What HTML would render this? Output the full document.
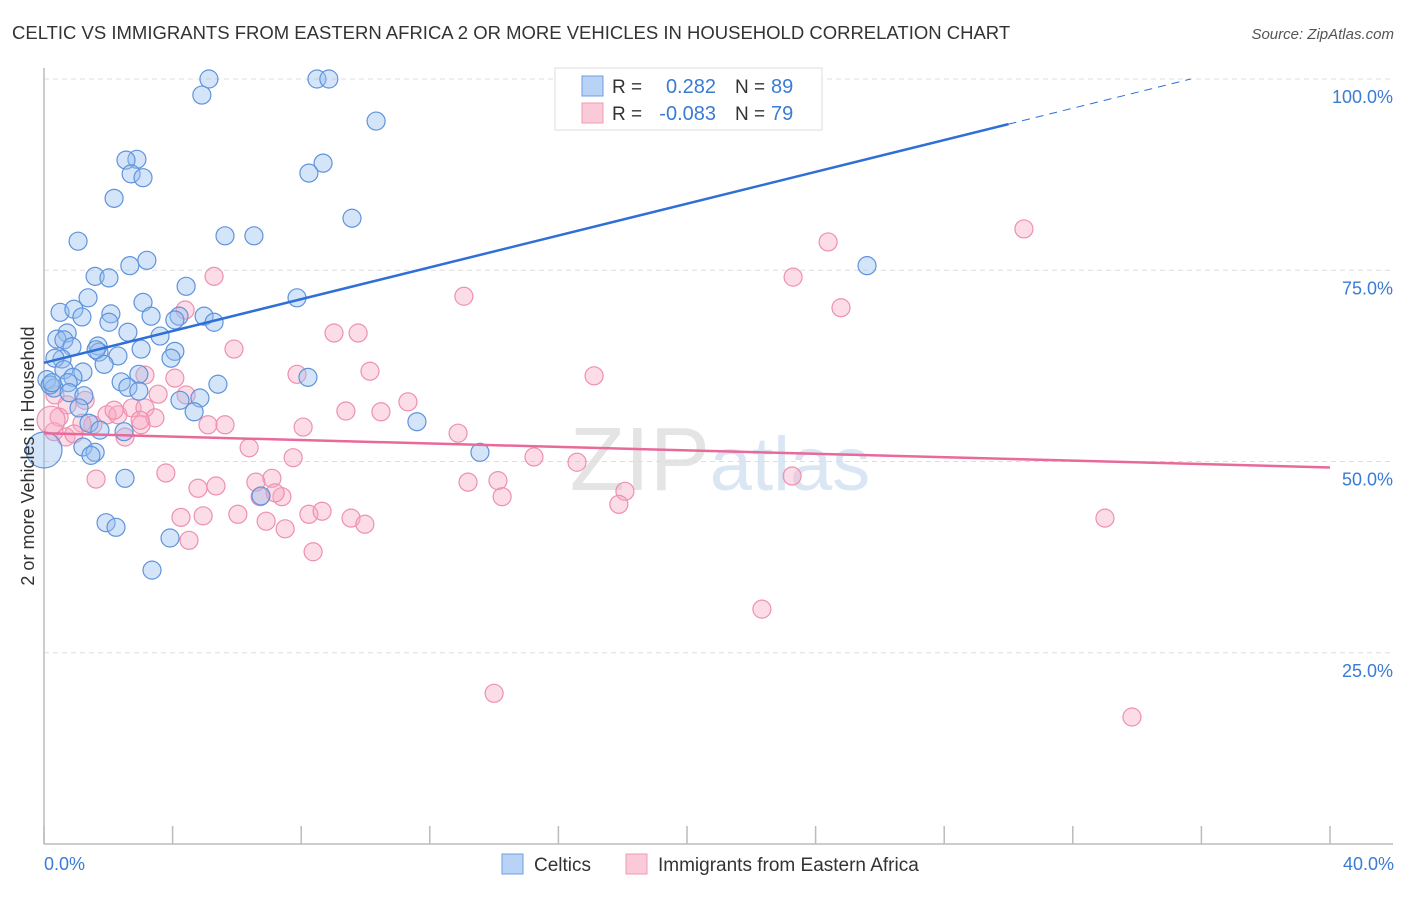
<!DOCTYPE html>
<html><head><meta charset="utf-8"><style>
body{margin:0;background:#fff;font-family:"Liberation Sans",sans-serif;}
svg text{font-family:"Liberation Sans",sans-serif;}
</style></head><body>
<svg id="chart" width="1406" height="892" xmlns="http://www.w3.org/2000/svg">
<text x="12" y="39" font-size="18.5" fill="#333">CELTIC VS IMMIGRANTS FROM EASTERN AFRICA 2 OR MORE VEHICLES IN HOUSEHOLD CORRELATION CHART</text>
<text x="1394" y="39" font-size="15" fill="#555" text-anchor="end" font-style="italic">Source: ZipAtlas.com</text>
<text x="720" y="490" font-size="90" text-anchor="middle" fill="#e4e4e4" font-family="Liberation Serif">ZIP<tspan fill="#dbe6f5" font-family="Liberation Sans" font-size="76">atlas</tspan></text>
<g id="grid"></g><g id="axes"></g><g id="pts"></g><g id="lines"></g>
<text transform="translate(34,456) rotate(-90)" font-size="18" fill="#333" text-anchor="middle">2 or more Vehicles in Household</text>
<text x="44" y="870" font-size="18" fill="#3a7bd5">0.0%</text>
<text x="1394" y="870" font-size="18" fill="#3a7bd5" text-anchor="end">40.0%</text>
<g>
<rect x="555" y="68" width="267" height="62" fill="#fff" stroke="#ddd"/>
<rect x="582" y="76" width="21" height="20" fill="#b8d3f5" stroke="#6f9ee0"/>
<rect x="582" y="103" width="21" height="20" fill="#fbcad8" stroke="#f09ab4"/>
<text x="612" y="93" font-size="19" fill="#333">R =</text><text x="716" y="93" font-size="20" fill="#3a7bd5" text-anchor="end">0.282</text>
<text x="735" y="93" font-size="19" fill="#333">N =</text><text x="771" y="93" font-size="20" fill="#3a7bd5">89</text>
<text x="612" y="120" font-size="19" fill="#333">R =</text><text x="716" y="120" font-size="20" fill="#3a7bd5" text-anchor="end">-0.083</text>
<text x="735" y="120" font-size="19" fill="#333">N =</text><text x="771" y="120" font-size="20" fill="#3a7bd5">79</text>
</g>
<g><rect x="502" y="854" width="21" height="20" fill="#b8d3f5" stroke="#6f9ee0"/><text x="534" y="871" font-size="19" fill="#333">Celtics</text></g>
<g><rect x="626" y="854" width="21" height="20" fill="#fbcad8" stroke="#f09ab4"/><text x="658" y="871" font-size="19" fill="#333">Immigrants from Eastern Africa</text></g>
</svg>
<script>
const blueX=[5.13,4.91,8.49,8.86,10.33,8.68,8.24,2.89,2.55,2.71,3.08,2.18,9.58,5.63,6.53,1.06,3.20,2.67,1.59,2.02,7.87,4.42,1.37,3.08,0.50,0.93,1.18,3.33,2.08,4.20,4.07,4.98,5.29,2.02,0.72,2.61,3.61,0.40,0.62,0.87,1.68,3.02,1.71,4.07,2.30,1.62,0.56,3.95,0.34,1.87,1.21,0.62,2.95,0.09,0.90,0.75,8.21,2.40,5.41,2.61,0.31,0.19,0.78,2.95,4.23,4.85,1.24,4.67,1.09,11.60,1.40,2.49,1.74,13.56,1.21,1.59,1.46,2.52,6.75,1.93,2.24,3.92,3.36,25.60,0.25,0];
const blueY=[100,97.9,100,100,94.5,89.0,87.7,89.5,89.4,87.6,87.1,84.4,81.8,79.5,79.5,78.8,76.3,75.6,74.2,74.0,71.4,72.9,71.4,70.8,69.5,69.9,68.9,69.0,69.3,69.0,68.5,69.0,68.2,68.2,66.8,66.9,66.4,66.0,65.9,65.0,65.1,64.7,64.3,64.4,63.8,64.6,63.4,63.5,63.5,62.7,61.7,62.0,61.4,60.7,61.0,60.3,61.0,60.4,60.1,59.7,59.6,60.0,59.0,59.2,58.0,58.3,58.6,56.5,57.0,55.2,55.0,53.9,54.1,51.2,51.9,51.2,50.8,47.8,45.5,42.0,41.4,40.0,35.8,75.6,60.3,51.5];
const pinkX=[30.48,24.39,5.29,23.30,13.06,24.79,4.39,9.02,9.77,5.91,10.14,7.87,4.07,17.11,3.14,11.32,9.39,10.48,12.88,15.24,16.58,14.12,13.19,14.25,18.07,17.88,23.27,22.33,33.0,33.84,14.0,0.34,0.72,0.47,1.52,1.96,2.30,2.18,2.74,3.14,3.45,3.02,1.18,2.52,0.68,0.31,1.62,3.79,3.55,4.42,5.10,5.63,6.38,7.75,8.06,7.09,6.59,7.40,6.72,7.19,5.35,4.79,4.26,4.95,4.51,6.03,6.91,7.50,8.24,8.65,8.37,9.55,9.98,1.28,0.93,2.99,0.22];
const pinkY=[80.4,78.7,74.2,74.1,71.6,70.1,69.8,66.8,66.8,64.7,61.8,61.4,60.9,61.2,61.3,57.8,56.6,56.5,53.7,50.6,49.9,47.5,47.3,45.4,46.1,44.4,48.1,30.7,42.6,16.6,19.7,58.7,57.4,55.8,54.8,56.1,56.1,56.7,57.0,57.0,55.7,54.8,55.0,53.2,53.2,53.9,47.7,48.5,58.8,58.7,54.8,54.8,51.8,50.5,54.5,47.8,47.3,45.4,45.4,45.9,46.8,46.5,42.7,42.9,39.7,43.1,42.2,41.2,43.1,43.5,38.2,42.6,41.8,58.0,53.6,55.4,55.4];
const yTicks=[100,75,50,25];
const xTicks=[0,4,8,12,16,20,24,28,32,36,40];
const blueTrend=[62.9,1.04]; // intercept, slope
const pinkTrend=[53.7,-0.112];
const NS="http://www.w3.org/2000/svg";
const X0=44,X1=1330,Y0=844,Y1=79;
const sx=v=>X0+(X1-X0)*v/40;
const sy=v=>Y0-(Y0-Y1)*v/100;
function mk(tag,attrs,parent){const e=document.createElementNS(NS,tag);for(const k in attrs)e.setAttribute(k,attrs[k]);parent.appendChild(e);return e;}
const grid=document.getElementById('grid'),axes=document.getElementById('axes'),pts=document.getElementById('pts'),lines=document.getElementById('lines');
yTicks.forEach(t=>{
 const l=mk('line',{x1:X0,x2:1393,y1:sy(t),y2:sy(t),stroke:'#ddd','stroke-dasharray':'5,4'},grid);
 
 
 const tx=mk('text',{x:1393,y:sy(t)+24,'font-size':18,fill:'#3a7bd5','text-anchor':'end'},grid);
 tx.textContent=t.toFixed(1)+'%';
 
 
});
const ay=mk('line',{x1:X0,x2:X0,y1:68,y2:Y0,stroke:'#bbb','stroke-width':1.5},axes);


const ax=mk('line',{x1:X0,x2:1393,y1:Y0,y2:Y0,stroke:'#bbb','stroke-width':1.5},axes);


xTicks.forEach(t=>{
 const l=mk('line',{x1:sx(t),x2:sx(t),y1:826,y2:Y0,stroke:'#bbb','stroke-width':1.5},axes);
 
 
});
function dots(xs,ys,fill,stroke,name){
 xs.forEach((v,i)=>{
  const big=(name==='celtic-point'&&v===0)||(name==='immigrant-point'&&i===xs.length-1);
  const c=mk('circle',{cx:sx(v),cy:sy(ys[i]),r:big?(name==='celtic-point'?18:14):9,fill:fill,stroke:stroke,'stroke-width':1.2},pts);
  
  
 });
}
dots(pinkX,pinkY,'rgba(248,170,195,0.4)','#ee90ae','immigrant-point');
dots(blueX,blueY,'rgba(150,190,240,0.4)','#5f93dc','celtic-point');
const bEnd=(100-blueTrend[0])/blueTrend[1];
const bl=mk('line',{x1:sx(0),y1:sy(blueTrend[0]),x2:sx(30),y2:sy(blueTrend[0]+blueTrend[1]*30),stroke:'#2f6fd6','stroke-width':2.5},lines);


const bd=mk('line',{x1:sx(30),y1:sy(blueTrend[0]+blueTrend[1]*30),x2:sx(bEnd),y2:sy(100),stroke:'#2f6fd6','stroke-width':1,'stroke-dasharray':'8,6'},lines);


const pl=mk('line',{x1:sx(0),y1:sy(pinkTrend[0]),x2:sx(40),y2:sy(pinkTrend[0]+pinkTrend[1]*40),stroke:'#e8699a','stroke-width':2.5},lines);


</script>
</body></html>
